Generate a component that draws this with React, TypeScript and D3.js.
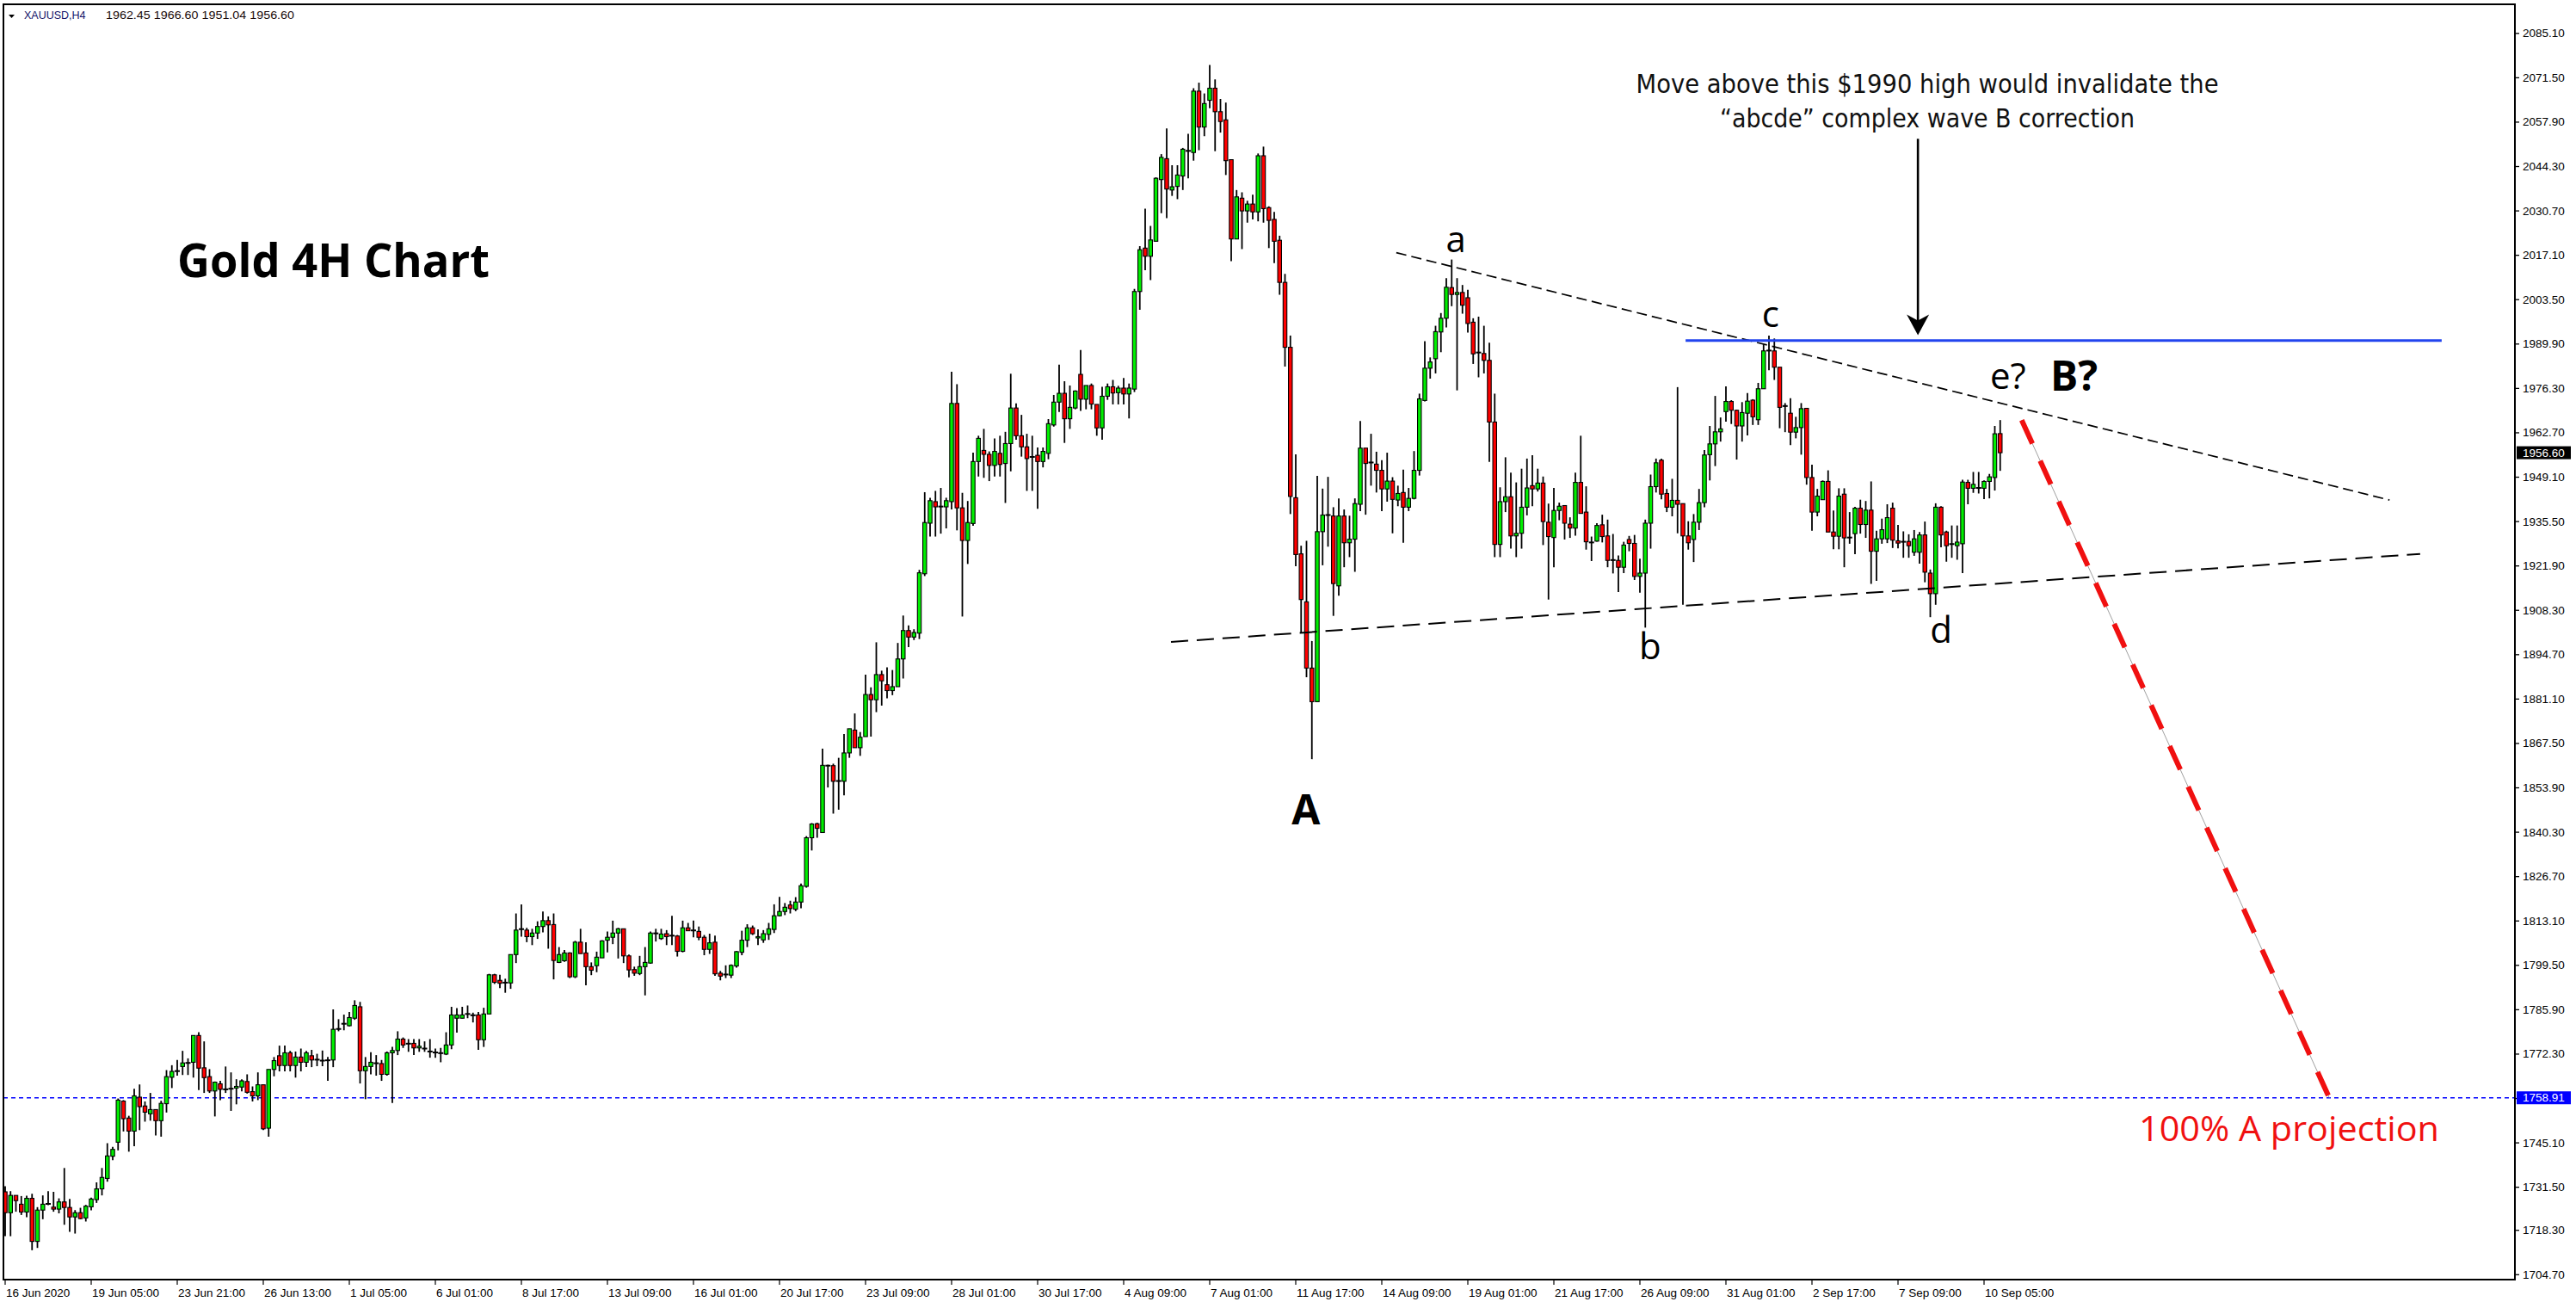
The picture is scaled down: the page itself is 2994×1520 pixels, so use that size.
import * as d3 from 'd3';
import React from 'react';

// XAUUSD H4 candles (bar 0 = 16 Jun 2020)
const opens = [
  1730.1,1723.7,1729.0,1726.3,1723.9,1728.1,1714.9,1724.5,1726.3,1725.4,
  1724.8,1727.0,1725.3,1722.4,1723.7,1722.1,1725.5,1727.7,1731.0,1734.2,
  1741.0,1745.3,1757.9,1752.7,1748.7,1759.1,1756.4,1754.0,1755.3,1751.9,
  1757.1,1765.2,1767.0,1768.5,1769.4,1769.8,1778.0,1768.1,1765.4,1761.0,
  1763.2,1761.6,1761.5,1761.9,1762.2,1763.9,1760.8,1759.5,1762.9,1749.6,
  1767.6,1771.8,1768.8,1772.7,1768.8,1771.4,1769.8,1771.8,1770.5,1770.4,
  1770.3,1770.5,1779.9,1781.5,1781.0,1783.3,1786.8,1767.2,1768.5,1769.4,
  1769.4,1766.1,1772.7,1773.4,1776.9,1775.4,1775.6,1774.2,1773.9,1773.0,
  1772.7,1772.5,1772.3,1775.1,1783.3,1783.3,1784.5,1784.3,1784.3,1776.7,
  1784.6,1796.6,1794.9,1794.1,1794.1,1802.8,1810.5,1810.3,1808.3,1809.4,
  1811.4,1813.2,1812.0,1800.4,1800.9,1803.3,1796.0,1806.6,1803.3,1799.1,
  1799.4,1801.8,1807.2,1808.1,1809.4,1810.7,1802.4,1798.2,1797.0,1799.1,
  1800.2,1809.2,1807.7,1809.2,1808.5,1808.5,1803.8,1811.0,1810.1,1809.9,
  1808.1,1804.4,1806.6,1797.1,1796.6,1796.5,1799.3,1803.5,1807.2,1811.0,
  1807.9,1807.3,1809.0,1810.5,1814.7,1816.0,1818.0,1816.7,1818.9,1823.7,
  1838.6,1842.9,1840.2,1860.6,1860.7,1855.9,1855.9,1864.6,1871.6,1866.2,
  1869.6,1882.5,1880.9,1888.6,1885.5,1883.7,1884.9,1893.4,1902.1,1900.1,
  1901.3,1919.5,1935.0,1941.6,1940.0,1940.0,1941.6,1971.7,1939.7,1929.7,
  1934.9,1953.9,1957.3,1956.1,1952.7,1956.4,1953.3,1959.4,1970.3,1961.8,
  1958.4,1955.2,1955.8,1953.9,1956.4,1965.1,1972.1,1974.8,1967.0,1970.3,
  1980.6,1973.0,1977.2,1971.4,1964.2,1973.9,1976.8,1975.0,1976.4,1974.6,
  1976.1,2006.0,2019.3,2016.8,2021.4,2040.3,2046.7,2037.1,2038.2,2041.4,
  2049.0,2048.6,2067.4,2056.4,2064.6,2068.3,2061.1,2058.6,2046.4,2022.1,
  2034.6,2030.7,2032.8,2030.4,2047.6,2031.7,2028.1,2021.7,2008.8,1988.9,
  1942.8,1925.6,1910.9,1890.6,1880.3,1932.4,1937.4,1937.2,1915.8,1937.2,
  1929.0,1930.1,1940.8,1958.0,1953.5,1953.1,1951.2,1945.5,1947.9,1942.1,
  1944.4,1939.9,1942.6,1951.2,1972.6,1982.5,1985.4,1993.6,1997.8,2007.2,
  2005.1,2005.7,2004.1,1996.6,1987.2,1987.0,1984.9,1966.0,1928.5,1941.6,
  1943.1,1931.1,1931.9,1939.9,1946.5,1945.5,1947.3,1935.3,1930.6,1938.9,
  1940.4,1934.7,1933.5,1947.5,1938.4,1929.0,1929.5,1934.5,1931.1,1923.6,
  1923.6,1921.5,1930.0,1928.8,1918.7,1919.7,1935.0,1946.2,1954.3,1944.1,
  1939.9,1942.0,1941.0,1931.1,1930.0,1935.3,1941.3,1956.0,1959.3,1963.0,
  1969.2,1972.3,1969.6,1964.8,1968.7,1972.7,1966.7,1976.2,1987.8,1987.8,
  1982.8,1970.8,1968.7,1962.9,1964.3,1970.2,1949.0,1938.4,1942.2,1947.8,
  1932.3,1931.0,1943.9,1930.5,1931.8,1939.6,1934.6,1939.0,1926.4,1930.2,
  1930.2,1939.6,1929.6,1929.2,1929.4,1926.1,1926.1,1931.4,1919.7,1913.4,
  1939.9,1932.3,1928.5,1928.1,1928.7,1947.5,1945.7,1945.7,1945.7,1947.8,
  1949.0,1962.45,
];

const highs = [
  1731.8,1730.3,1729.0,1728.8,1728.9,1729.5,1725.4,1729.0,1730.3,1730.1,
  1728.1,1737.4,1727.9,1724.5,1725.2,1726.1,1728.3,1733.0,1737.4,1745.0,
  1743.9,1758.7,1758.2,1753.4,1761.7,1763.0,1757.8,1760.4,1755.3,1758.0,
  1767.4,1768.9,1770.5,1773.3,1771.0,1778.0,1779.0,1776.2,1767.7,1763.9,
  1764.1,1768.5,1766.7,1764.6,1764.6,1766.1,1762.4,1766.7,1762.9,1767.6,
  1771.4,1774.9,1774.9,1773.3,1773.1,1774.0,1773.3,1773.6,1772.4,1773.4,
  1771.4,1786.0,1783.0,1784.4,1785.2,1788.8,1788.3,1771.4,1772.9,1772.0,
  1770.5,1773.1,1774.5,1779.3,1777.4,1776.9,1776.9,1776.9,1776.2,1776.9,
  1774.0,1774.2,1779.0,1786.8,1786.4,1786.8,1787.2,1785.0,1785.2,1786.5,
  1796.9,1796.9,1796.6,1795.4,1802.8,1815.4,1818.2,1811.0,1810.7,1813.0,
  1816.0,1814.5,1815.4,1805.1,1804.2,1803.5,1807.0,1810.7,1806.6,1800.4,
  1803.7,1807.2,1809.9,1813.2,1811.0,1810.7,1802.8,1799.1,1802.4,1805.1,
  1809.9,1810.7,1810.7,1810.3,1814.7,1808.8,1813.2,1812.5,1813.2,1811.4,
  1808.8,1809.2,1808.6,1797.8,1799.5,1799.8,1803.9,1810.1,1812.1,1811.7,
  1810.5,1810.3,1812.5,1818.2,1820.5,1818.6,1819.3,1820.4,1824.6,1839.1,
  1843.1,1843.2,1865.9,1861.0,1861.3,1863.1,1870.4,1872.0,1876.7,1871.0,
  1888.6,1884.7,1898.5,1889.8,1890.8,1890.0,1898.3,1906.7,1903.7,1902.5,
  1920.7,1944.5,1942.8,1944.9,1945.8,1942.8,1981.4,1977.6,1944.3,1941.8,
  1956.6,1961.8,1963.9,1957.0,1961.0,1961.8,1963.0,1980.8,1971.7,1968.2,
  1962.4,1961.8,1958.2,1958.2,1966.9,1974.3,1983.6,1978.5,1977.2,1975.7,
  1988.1,1977.2,1977.8,1971.4,1976.8,1977.8,1978.9,1977.1,1979.5,1977.8,
  2006.8,2019.9,2031.4,2026.1,2041.0,2048.1,2056.0,2044.7,2044.7,2050.0,
  2054.3,2068.3,2070.0,2066.7,2075.4,2071.0,2065.0,2063.9,2046.4,2037.1,
  2036.4,2033.8,2035.7,2048.3,2050.4,2032.1,2030.4,2023.1,2011.4,1992.5,
  1956.1,1928.1,1929.6,1898.9,1949.5,1945.6,1949.2,1939.9,1942.6,1939.2,
  1937.3,1942.6,1966.3,1958.0,1962.4,1956.9,1954.3,1956.6,1949.1,1946.5,
  1951.4,1945.8,1957.1,1974.7,1990.8,1985.8,1995.5,1999.4,2010.1,2015.8,
  2010.1,2008.0,2006.5,1997.8,1998.3,1995.5,1990.3,1974.7,1946.0,1955.2,
  1950.5,1947.5,1951.7,1954.8,1955.8,1951.7,1949.3,1941.0,1945.8,1941.3,
  1940.4,1936.8,1950.5,1961.8,1946.3,1930.9,1935.0,1937.6,1936.1,1931.7,
  1925.1,1929.3,1931.1,1931.4,1924.1,1936.1,1949.9,1954.8,1954.8,1945.5,
  1948.6,1976.7,1941.0,1935.6,1937.8,1945.5,1957.4,1964.8,1974.0,1967.4,
  1976.9,1972.7,1969.8,1972.1,1974.9,1973.0,1978.0,1989.8,1992.5,1991.6,
  1982.8,1971.8,1973.3,1967.6,1971.8,1970.2,1952.9,1945.5,1948.1,1951.2,
  1938.9,1945.7,1945.7,1938.4,1940.0,1942.2,1941.8,1947.8,1932.7,1936.4,
  1940.8,1941.3,1934.5,1932.5,1931.6,1932.9,1932.3,1935.5,1920.8,1941.1,
  1940.2,1932.7,1934.3,1934.3,1948.3,1948.3,1950.7,1950.7,1948.1,1950.1,
  1964.8,1966.6,
];

const lows = [
  1716.5,1716.5,1724.0,1723.0,1722.3,1712.2,1712.9,1721.7,1726.0,1724.0,
  1723.5,1720.0,1717.8,1717.3,1721.7,1721.0,1724.4,1726.7,1729.0,1733.2,
  1739.8,1742.8,1748.6,1742.4,1744.1,1749.0,1751.6,1751.9,1747.4,1747.0,
  1754.4,1761.9,1765.7,1765.9,1765.9,1765.1,1761.3,1760.4,1760.4,1753.2,
  1758.2,1760.4,1754.9,1756.9,1760.9,1760.2,1757.8,1758.2,1749.0,1747.0,
  1765.5,1767.0,1767.0,1767.0,1765.1,1767.0,1768.3,1768.3,1768.6,1768.6,
  1764.1,1768.3,1779.3,1779.6,1780.8,1782.8,1763.3,1758.5,1766.1,1765.7,
  1764.1,1765.7,1757.3,1772.0,1774.2,1773.0,1772.0,1773.0,1773.0,1771.2,
  1771.2,1769.8,1772.0,1773.8,1778.9,1783.2,1783.3,1782.0,1773.6,1774.5,
  1784.6,1793.8,1792.5,1791.1,1792.3,1800.2,1808.3,1806.6,1805.7,1807.6,
  1809.6,1804.6,1795.2,1800.2,1800.6,1795.6,1795.6,1803.1,1793.4,1796.5,
  1797.4,1801.8,1803.5,1806.0,1801.6,1800.2,1795.8,1796.3,1796.5,1790.3,
  1800.0,1806.8,1807.3,1805.7,1805.7,1802.2,1803.5,1810.1,1808.1,1807.2,
  1802.6,1803.0,1796.3,1794.9,1795.6,1795.6,1798.8,1802.6,1805.1,1808.8,
  1805.7,1806.4,1807.3,1809.4,1814.5,1814.9,1815.4,1816.1,1817.0,1823.3,
  1834.7,1838.6,1840.2,1854.0,1846.0,1847.2,1851.6,1863.1,1866.2,1863.7,
  1869.6,1869.6,1877.1,1879.1,1881.3,1882.3,1884.9,1887.4,1897.0,1899.2,
  1899.5,1918.8,1930.9,1930.9,1931.8,1933.4,1939.2,1932.8,1906.4,1922.5,
  1934.2,1949.3,1948.9,1947.9,1949.3,1949.3,1941.2,1950.9,1960.6,1955.4,
  1944.9,1944.9,1939.4,1952.1,1954.6,1964.6,1969.1,1959.6,1963.9,1969.9,
  1969.4,1969.9,1969.9,1961.8,1960.6,1972.8,1971.4,1971.4,1971.4,1967.1,
  1975.2,2000.4,2012.5,2009.5,2021.4,2030.0,2028.5,2035.3,2034.3,2037.1,
  2040.7,2046.1,2049.3,2053.6,2062.2,2049.0,2054.7,2041.7,2015.3,2022.1,
  2019.0,2027.1,2028.1,2027.5,2027.1,2019.3,2014.7,2005.0,1983.0,1937.8,
  1921.8,1901.3,1887.8,1862.7,1880.3,1922.1,1927.8,1906.6,1912.8,1921.5,
  1924.6,1920.1,1938.7,1937.6,1946.5,1944.4,1938.7,1941.6,1931.9,1940.2,
  1929.0,1938.7,1942.3,1949.6,1972.3,1979.3,1980.9,1987.4,1995.0,2001.5,
  1975.7,1999.2,1993.4,1983.8,1979.7,1980.9,1953.8,1924.6,1924.6,1938.4,
  1927.2,1924.6,1927.2,1937.4,1940.2,1944.7,1928.3,1911.6,1921.5,1935.9,
  1930.0,1930.5,1931.2,1938.0,1926.9,1923.4,1929.3,1929.1,1921.5,1919.6,
  1913.9,1919.7,1926.4,1917.6,1913.7,1903.0,1927.2,1944.4,1942.3,1938.4,
  1937.1,1931.9,1910.0,1926.9,1923.1,1932.9,1939.9,1948.1,1952.5,1960.0,
  1966.1,1965.4,1954.5,1960.0,1961.9,1965.1,1965.1,1976.2,1981.9,1978.9,
  1964.1,1962.9,1958.9,1961.0,1956.0,1946.8,1932.7,1937.1,1942.2,1932.3,
  1927.0,1927.0,1921.5,1928.7,1925.5,1931.8,1930.5,1916.4,1917.3,1928.7,
  1928.9,1927.4,1927.3,1924.4,1924.4,1925.0,1922.6,1916.9,1906.2,1910.0,
  1927.6,1923.2,1924.4,1923.8,1919.7,1940.8,1944.3,1944.1,1942.4,1942.6,
  1945.0,1951.04,
];

const closes = [
  1723.7,1729.0,1727.4,1723.9,1728.1,1714.9,1724.5,1726.3,1726.4,1724.8,
  1727.0,1725.3,1722.4,1723.7,1721.9,1725.7,1727.9,1731.0,1734.5,1741.1,
  1743.1,1758.2,1752.5,1748.7,1759.5,1756.2,1754.5,1755.3,1751.9,1757.2,
  1765.4,1767.0,1767.1,1769.6,1769.6,1778.0,1768.0,1765.1,1761.0,1763.7,
  1761.5,1761.5,1761.7,1762.4,1764.1,1760.6,1759.5,1762.9,1749.4,1767.6,
  1770.3,1768.8,1772.7,1768.8,1771.4,1769.8,1772.7,1770.5,1770.6,1770.3,
  1770.4,1779.9,1780.0,1781.6,1783.5,1787.2,1767.2,1768.5,1769.8,1769.5,
  1766.1,1772.7,1773.4,1776.9,1775.1,1775.5,1774.2,1774.7,1774.0,1773.1,
  1772.8,1772.6,1775.1,1784.3,1784.3,1784.3,1784.6,1784.2,1776.7,1784.6,
  1796.6,1794.3,1794.0,1794.2,1802.8,1810.3,1810.6,1808.3,1809.4,1811.4,
  1813.2,1811.9,1801.0,1802.8,1803.3,1796.0,1806.6,1803.1,1799.1,1798.0,
  1802.0,1807.0,1808.1,1809.4,1810.7,1802.4,1798.1,1797.1,1799.1,1800.4,
  1809.4,1809.3,1809.1,1808.3,1808.6,1803.8,1811.0,1810.1,1810.2,1808.1,
  1804.4,1806.4,1796.9,1796.2,1796.7,1799.5,1803.7,1807.2,1811.0,1809.2,
  1808.3,1809.2,1810.7,1814.7,1816.0,1817.3,1816.9,1818.9,1823.9,1838.6,
  1842.8,1841.5,1860.8,1860.7,1855.9,1856.0,1864.6,1872.0,1866.2,1869.4,
  1882.5,1880.9,1888.6,1886.7,1883.7,1884.9,1893.4,1902.1,1900.1,1901.5,
  1919.8,1935.2,1941.9,1940.0,1940.1,1941.9,1971.7,1939.7,1929.7,1935.2,
  1953.9,1961.0,1956.1,1952.7,1957.0,1953.0,1959.4,1970.3,1961.8,1958.4,
  1954.8,1955.3,1953.9,1957.0,1965.5,1972.1,1974.8,1967.0,1970.5,1975.5,
  1973.0,1977.2,1971.5,1964.2,1973.9,1976.8,1974.9,1976.4,1974.6,1976.4,
  2006.0,2018.8,2016.8,2021.8,2040.7,2047.1,2037.4,2038.1,2041.7,2049.6,
  2049.1,2067.4,2056.4,2063.6,2068.3,2061.1,2058.1,2046.1,2022.1,2035.0,
  2030.7,2032.8,2030.4,2047.6,2031.4,2027.8,2021.4,2008.8,1988.9,1943.2,
  1925.4,1911.6,1890.6,1880.3,1932.4,1937.5,1937.5,1916.5,1937.2,1929.0,
  1930.1,1941.0,1958.0,1953.3,1953.6,1951.2,1945.5,1947.9,1942.3,1944.1,
  1939.9,1942.6,1951.2,1973.1,1982.5,1984.4,1993.7,1997.8,2007.3,2005.1,
  2005.7,2001.8,1996.2,1986.9,1987.3,1984.9,1966.0,1928.5,1941.6,1943.1,
  1931.1,1931.9,1939.9,1945.8,1945.5,1947.3,1935.5,1930.9,1938.9,1940.2,
  1935.0,1933.5,1947.5,1938.0,1929.3,1929.1,1934.3,1930.9,1923.6,1923.7,
  1921.5,1928.3,1928.8,1918.7,1919.7,1935.0,1946.2,1953.5,1943.9,1939.9,
  1942.0,1940.8,1931.1,1929.0,1935.3,1941.3,1955.9,1959.3,1963.0,1963.9,
  1972.3,1969.6,1964.8,1968.9,1972.4,1967.6,1976.2,1987.8,1987.9,1982.8,
  1970.5,1970.9,1962.9,1964.3,1970.1,1949.0,1938.4,1943.3,1947.8,1932.3,
  1931.0,1943.3,1930.5,1930.6,1939.6,1934.6,1939.0,1926.4,1930.2,1933.0,
  1936.7,1929.8,1928.9,1929.3,1928.1,1930.2,1931.4,1920.0,1913.4,1939.9,
  1931.4,1928.1,1928.6,1929.2,1947.6,1945.7,1946.9,1945.8,1947.8,1949.2,
  1962.4,1956.6,
];

// time axis labels, one every 16 bars
const timeLabels = [
  '16 Jun 2020', '19 Jun 05:00', '23 Jun 21:00', '26 Jun 13:00', '1 Jul 05:00',
  '6 Jul 01:00', '8 Jul 17:00', '13 Jul 09:00', '16 Jul 01:00', '20 Jul 17:00',
  '23 Jul 09:00', '28 Jul 01:00', '30 Jul 17:00', '4 Aug 09:00', '7 Aug 01:00',
  '11 Aug 17:00', '14 Aug 09:00', '19 Aug 01:00', '21 Aug 17:00', '26 Aug 09:00',
  '31 Aug 01:00', '2 Sep 17:00', '7 Sep 09:00', '10 Sep 05:00',
];
const labelEvery = 16;

const priceTicks = [
  2085.1, 2071.5, 2057.9, 2044.3, 2030.7, 2017.1, 2003.5, 1989.9, 1976.3, 1962.7,
  1949.1, 1935.5, 1921.9, 1908.3, 1894.7, 1881.1, 1867.5, 1853.9, 1840.3, 1826.7,
  1813.1, 1799.5, 1785.9, 1772.3, 1758.7, 1745.1, 1731.5, 1718.3, 1704.7,
];

const lastPrice = 1956.6;
const projectionLevel = 1758.91;
const invalidationLevel = 1991;
const invalidationSpan = [312.5, 453.1];
const upperTrend: [number, number][] = [[258.7, 2017.9], [443.4, 1942.1]];
const lowerTrend: [number, number][] = [[216.8, 1898.6], [449.1, 1925.6]];
const projectionPath: [number, number][] = [[375, 1966.6], [432.2, 1758.91]];
const arrowAt: [number, number, number] = [355.7, 2052.8, 1992.6];

const waveLabels = [
  { text: 'a', bar: 269.8, price: 2018.1, anchor: 'middle', bold: false },
  { text: 'b', bar: 305.9, price: 1893.3, anchor: 'middle', bold: false },
  { text: 'c', bar: 328.3, price: 1995.1, anchor: 'middle', bold: false },
  { text: 'd', bar: 360.0, price: 1898.3, anchor: 'middle', bold: false },
  { text: 'e?', bar: 369.1, price: 1976.1, anchor: 'start', bold: false },
  { text: 'B?', bar: 380.3, price: 1975.6, anchor: 'start', bold: true },
  { text: 'A', bar: 241.9, price: 1842.7, anchor: 'middle', bold: true },
];

const W = 2994;
const H = 1520;
const frame = { left: 4, top: 5, right: 2923, bottom: 1487 };
const axisFont = "'Liberation Sans', Arial, sans-serif";
const noteFont = "'Open Sans', 'Noto Sans', sans-serif";
const narrowFont = "'Liberation Sans Narrow', 'DejaVu Sans Condensed', sans-serif";

export default function App() {
  const x = d3.scaleLinear().domain([0, 371]).range([6, 6 + 6.25 * 371]);
  const y = d3.scaleLinear().domain([1704.7, 2085.1]).range([1481.3, 38.8]);
  const line = d3.line<[number, number]>().x(d => x(d[0])).y(d => y(d[1]));

  const bodyW = 4.4;

  return (
    <svg
      width={W}
      height={H}
      style={{ position: 'absolute', left: 0, top: 0, background: '#fff' }}
    >
      <rect x={0} y={0} width={W} height={H} fill="#fff" />

      {/* header */}
      <path d="M10,17 L17,17 L13.5,21 Z" fill="#000" />
      <text x={28} y={22} fontFamily={axisFont} fontSize={12.5} fill="#14146a">XAUUSD,H4</text>
      <text x={123} y={22} fontFamily={axisFont} fontSize={12.5} fill="#1a0a0a" textLength={219} lengthAdjust="spacingAndGlyphs">
        1962.45 1966.60 1951.04 1956.60
      </text>

      {/* 100% projection level */}
      <line
        x1={frame.left} x2={frame.right}
        y1={y(projectionLevel)} y2={y(projectionLevel)}
        stroke="#0000ff" strokeWidth={1.5} strokeDasharray="5,4"
      />

      {/* candles */}
      <g>
        {closes.map((c, i) => {
          const o = opens[i];
          const cx = x(i);
          const doji = Math.abs(o - c) < 0.25;
          const top = y(Math.max(o, c));
          const h = Math.max(1, Math.abs(y(o) - y(c)));
          return (
            <g key={i}>
              <line x1={cx} x2={cx} y1={y(highs[i])} y2={y(lows[i])} stroke="#000" strokeWidth={1.8} />
              {doji ? (
                <line x1={cx - 3} x2={cx + 3} y1={y(c)} y2={y(c)} stroke="#000" strokeWidth={2} />
              ) : (
                <rect
                  x={cx - bodyW / 2}
                  y={top}
                  width={bodyW}
                  height={h}
                  fill={c > o ? '#00ee00' : '#ff0000'}
                  stroke="#000"
                  strokeWidth={1.1}
                />
              )}
            </g>
          );
        })}
      </g>

      {/* triangle trendlines */}
      <path d={line(upperTrend) || ''} fill="none" stroke="#000" strokeWidth={1.7} strokeDasharray="12,6" />
      <path d={line(lowerTrend) || ''} fill="none" stroke="#000" strokeWidth={2} strokeDasharray="20,10" />

      {/* invalidation level */}
      <line
        x1={x(invalidationSpan[0])} x2={x(invalidationSpan[1])}
        y1={y(invalidationLevel)} y2={y(invalidationLevel)}
        stroke="#2244ee" strokeWidth={3}
      />

      {/* projection */}
      <path d={line(projectionPath) || ''} fill="none" stroke="#a0a0a0" strokeWidth={1} />
      <path d={line(projectionPath) || ''} fill="none" stroke="#f01010" strokeWidth={6} strokeDasharray="30,22" />

      {/* arrow */}
      <line
        x1={x(arrowAt[0])} x2={x(arrowAt[0])}
        y1={y(arrowAt[1])} y2={y(arrowAt[2]) - 14}
        stroke="#000" strokeWidth={2.6}
      />
      <path
        d={`M${x(arrowAt[0])},${y(arrowAt[2])} l-13,-24 l13,7 l13,-7 Z`}
        fill="#000"
      />

      {/* note text */}
      <text x={2240} y={108} textAnchor="middle" fontFamily={narrowFont} fontSize={31} fill="#111" textLength={677} lengthAdjust="spacingAndGlyphs">
        Move above this $1990 high would invalidate the
      </text>
      <text x={2240} y={148} textAnchor="middle" fontFamily={narrowFont} fontSize={31} fill="#111" textLength={482} lengthAdjust="spacingAndGlyphs">
        {'\u201Cabcde\u201D complex wave B correction'}
      </text>

      {/* title */}
      <text x={206} y={322} fontFamily={noteFont} fontWeight={700} fontSize={54} fill="#000" textLength={363} lengthAdjust="spacingAndGlyphs">
        Gold 4H Chart
      </text>

      {/* wave labels */}
      {waveLabels.map(l => (
        <text
          key={l.text}
          x={x(l.bar)}
          y={y(l.price)}
          textAnchor={l.anchor as 'start' | 'middle'}
          fontFamily={noteFont}
          fontWeight={l.bold ? 700 : 400}
          fontSize={l.bold ? 48 : 42}
          fill="#000"
        >
          {l.text}
        </text>
      ))}

      <text x={2486} y={1326} fontFamily={noteFont} fontSize={40} fill="#f01010" textLength={349} lengthAdjust="spacingAndGlyphs">
        100% A projection
      </text>

      {/* frame */}
      <rect
        x={frame.left} y={frame.top}
        width={frame.right - frame.left} height={frame.bottom - frame.top}
        fill="none" stroke="#000" strokeWidth={2}
      />

      {/* price axis */}
      {priceTicks.map(v => (
        <g key={v}>
          <line x1={frame.right} x2={frame.right + 5} y1={y(v)} y2={y(v)} stroke="#000" strokeWidth={1.3} />
          <text x={2932} y={y(v) + 4.5} fontFamily={axisFont} fontSize={13.5} fill="#000">
            {v.toFixed(2)}
          </text>
        </g>
      ))}
      <rect x={2925} y={y(lastPrice) - 7.5} width={63} height={15} fill="#000" />
      <text x={2932} y={y(lastPrice) + 4.5} fontFamily={axisFont} fontSize={13.5} fill="#fff">
        {lastPrice.toFixed(2)}
      </text>
      <rect x={2925} y={y(projectionLevel) - 7.5} width={63} height={15} fill="#0000ff" />
      <text x={2932} y={y(projectionLevel) + 4.5} fontFamily={axisFont} fontSize={13.5} fill="#fff">
        {projectionLevel.toFixed(2)}
      </text>

      {/* time axis */}
      {timeLabels.map((t, k) => {
        const tx = x(k * labelEvery);
        return (
          <g key={t}>
            <line x1={tx} x2={tx} y1={frame.bottom} y2={frame.bottom + 6} stroke="#000" strokeWidth={1.2} />
            <text x={tx + 1} y={1507} fontFamily={axisFont} fontSize={13.5} fill="#000">
              {t}
            </text>
          </g>
        );
      })}
    </svg>
  );
}
